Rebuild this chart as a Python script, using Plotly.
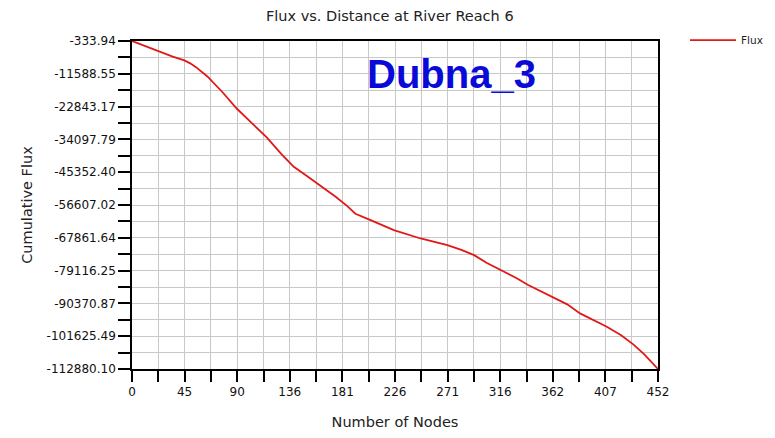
import plotly.graph_objects as go

nodes = [0, 10, 24, 35, 45, 50, 55, 65, 78, 90, 103, 116, 128, 139, 150, 162, 175, 185,
         192, 205, 225, 248, 271, 283, 294, 305, 317, 331, 340, 355, 363, 374, 385, 397,
         408, 420, 431, 440, 447, 452]
flux = [-334, -1900, -4100, -5700, -7000, -8000, -9300, -12600, -18000, -23500, -28500,
        -33500, -39000, -43500, -46600, -50000, -53800, -57000, -59600, -61800, -65200,
        -68100, -70400, -72000, -73800, -76500, -79000, -81800, -84000, -87000, -88600,
        -90700, -93800, -96200, -98400, -101200, -104500, -107800, -110600, -112880.10]

x_major = [0, 45.2, 90.4, 135.6, 180.8, 226, 271.2, 316.4, 361.6, 406.8, 452]
x_labels = ["0", "45", "90", "136", "181", "226", "271", "316", "362", "407", "452"]
y_labels = ["-333.94", "-11588.55", "-22843.17", "-34097.79", "-45352.40", "-56607.02",
            "-67861.64", "-79116.25", "-90370.87", "-101625.49", "-112880.10"]
y_major = [float(s) for s in y_labels]

x_minor = [(x_major[i] + x_major[i + 1]) / 2 for i in range(len(x_major) - 1)]
y_minor = [(y_major[i] + y_major[i + 1]) / 2 for i in range(len(y_major) - 1)]

FONT = "DejaVu Sans"
GRID = "#c8c8c8"

fig = go.Figure()
fig.add_trace(go.Scatter(x=nodes, y=flux, mode="lines", name="Flux",
                         line=dict(color="#e01818", width=1.8)))

fig.update_layout(
    width=759, height=422,
    margin=dict(l=124, r=109, t=33, b=61, autoexpand=False),
    paper_bgcolor="white", plot_bgcolor="white",
    title=dict(text="Flux vs. Distance at River Reach 6", x=0.503, xanchor="center",
               y=0.981, yanchor="middle",
               font=dict(family=FONT, size=14.5, color="#222222")),
    showlegend=True,
    legend=dict(x=0.892, y=0.924, xref="container", yref="container",
                xanchor="left", yanchor="middle", itemwidth=46,
                font=dict(family=FONT, size=10.5, color="#222222"),
                bgcolor="rgba(0,0,0,0)"),
    annotations=[dict(text="<b>Dubna_3</b>", x=0.607, y=0.899, xref="paper", yref="paper",
                      xanchor="center", yanchor="middle", showarrow=False,
                      font=dict(family="Liberation Sans, Arial", size=40, color="#0a0ad8"))],
)

fig.update_xaxes(
    range=[0, 452], tickmode="array", tickvals=x_major, ticktext=x_labels,
    automargin=True,
    showline=True, linecolor="black", linewidth=1.6, mirror=True,
    ticks="outside", ticklen=11, tickwidth=1.5, tickcolor="black",
    showgrid=True, gridcolor=GRID, gridwidth=1.3, zeroline=False,
    tickfont=dict(family=FONT, size=12, color="#111111"),
    minor=dict(tickmode="array", tickvals=x_minor, ticks="outside", ticklen=11,
               tickwidth=1.5, tickcolor="black", showgrid=True, gridcolor=GRID, gridwidth=1.3),
    title=dict(text="Number of Nodes", standoff=21,
               font=dict(family=FONT, size=14.5, color="#222222")),
)
fig.update_yaxes(
    range=[-112880.10, -333.94], tickmode="array", tickvals=y_major, ticktext=y_labels,
    automargin=True,
    showline=True, linecolor="black", linewidth=1.6, mirror=True,
    ticks="outside", ticklen=12, tickwidth=1.5, tickcolor="black",
    showgrid=True, gridcolor=GRID, gridwidth=1.3, zeroline=False,
    tickfont=dict(family=FONT, size=12, color="#111111"),
    minor=dict(tickmode="array", tickvals=y_minor, ticks="outside", ticklen=12,
               tickwidth=1.5, tickcolor="black", showgrid=True, gridcolor=GRID, gridwidth=1.3),
    title=dict(text="Cumulative Flux", standoff=10,
               font=dict(family=FONT, size=14.5, color="#222222")),
)

fig.write_html("out.html")
